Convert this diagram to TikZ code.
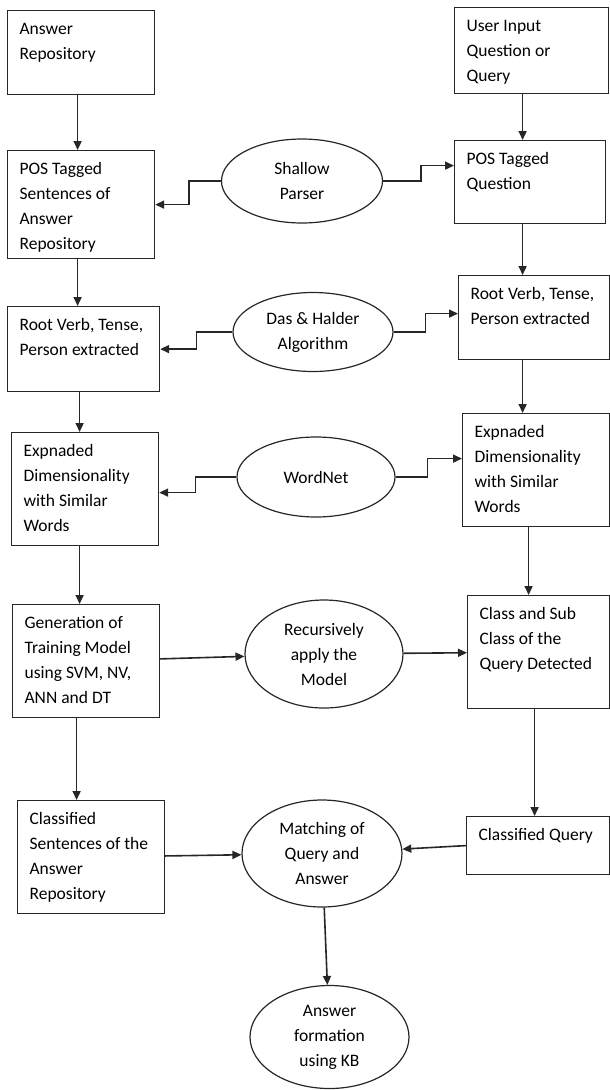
\documentclass[tikz,border=0pt]{standalone}
\usepackage{fontspec}
\setmainfont{Carlito}
\usetikzlibrary{arrows.meta,shapes.geometric}
\definecolor{Line}{HTML}{262626}
% box text: width, height of the drawn box, then the lines
\newcommand{\boxtxt}[3]{\parbox[t][\dimexpr#2pt-12pt\relax][t]{\dimexpr#1pt-24pt\relax}{\strut #3}}

\begin{document}
\begin{tikzpicture}[x=1pt,y=-1pt,
    font=\fontsize{17.5}{25}\selectfont,
    procbox/.style={draw=Line,line width=1.2pt,rectangle,anchor=north west,
      inner xsep=12pt,inner ysep=6pt},
    oval/.style={draw=Line,line width=1.2pt,ellipse,inner sep=0pt,align=center},
    arr/.style={draw=Line,line width=1.6pt,-{Triangle[length=9pt,width=8pt]}}]
  \useasboundingbox (0,0) rectangle (610,1090);

  % answer side
  \node[procbox] (ans) at (7,10) {\boxtxt{147}{84}{Answer\\Repository}};
  \node[procbox] (posans) at (7,150)
    {\boxtxt{147}{108}{POS Tagged\\Sentences of\\Answer\\Repository}};
  \node[procbox] (rootans) at (7,306)
    {\boxtxt{152}{85}{Root Verb, Tense,\\Person extracted}};
  \node[procbox] (expans) at (11,432)
    {\boxtxt{147}{113}{Expnaded\\Dimensionality\\with Similar\\Words}};
  \node[procbox] (train) at (12,604)
    {\boxtxt{147}{113}{Generation of\\Training Model\\using SVM, NV,\\ANN and DT}};
  \node[procbox] (clsans) at (17,800)
    {\boxtxt{147}{113}{Classified\\Sentences of the\\Answer\\Repository}};

  % query side
  \node[procbox] (qry) at (454,7)
    {\boxtxt{154}{86}{User Input\\Question or\\Query}};
  \node[procbox] (posqry) at (454,140) {\boxtxt{151}{83}{POS Tagged\\Question}};
  \node[procbox] (rootqry) at (458,275)
    {\boxtxt{151}{84}{Root Verb, Tense,\\Person extracted}};
  \node[procbox] (expqry) at (462,413)
    {\boxtxt{147}{113}{Expnaded\\Dimensionality\\with Similar\\Words}};
  \node[procbox] (clsub) at (467,595)
    {\boxtxt{142}{113}{Class and Sub\\Class of the\\Query Detected}};
  \node[procbox] (clsqry) at (466,816) {\boxtxt{143}{58}{Classified Query}};

  % tools in the middle
  \node[oval,minimum width=161,minimum height=84] (shallow) at (302,181)
    {Shallow\\Parser};
  \node[oval,minimum width=160,minimum height=79] (dashal) at (313,332)
    {Das \& Halder\\Algorithm};
  \node[oval,minimum width=158,minimum height=80] (wordnet) at (316,477)
    {WordNet};
  \node[oval,minimum width=158,minimum height=108] (recur) at (324,654)
    {Recursively\\apply the\\Model};
  \node[oval,minimum width=160,minimum height=107] (match) at (322,853.5)
    {Matching of\\Query and\\Answer};
  \node[oval,minimum width=159,minimum height=103] (answer) at (329.5,1037)
    {Answer\\formation\\using KB};

  % downward flow
  \foreach \a/\b/\dx in {ans/posans/-3.5,posans/rootans/-3.5,
      rootans/expans/-4,expans/train/-5.5,train/clsans/-9.5,
      qry/posqry/-9,posqry/rootqry/-7.5,rootqry/expqry/-11.5,
      expqry/clsub/-7.5,clsub/clsqry/-4}
    \draw[arr] ([xshift=\dx]\a.south) -- ([xshift=\dx]\a.south |- \b.north);

  % stepped links
  \draw[arr] (shallow.west) -- ++(-32,0) |- (posans.east);
  \draw[arr] (shallow.east) -- ++(38,0) |- ([yshift=16.5]posqry.west);
  \draw[arr] (dashal.west) -- ++(-36,0) |- (rootans.east);
  \draw[arr] (dashal.east) -- ++(32,0) |- ([yshift=4]rootqry.west);
  \draw[arr] (wordnet.west) -- ++(-41,0) |- ([yshift=-3.5]expans.east);
  \draw[arr] (wordnet.east) -- ++(32,0) |- ([yshift=11.5]expqry.west);

  \draw[arr] (train) -- (recur);
  \draw[arr] (recur) -- (clsub);
  \draw[arr] (clsans) -- (match);
  \draw[arr] (clsqry.west) -- (match);
  \draw[arr] (match) -- (answer);
\end{tikzpicture}
\end{document}
